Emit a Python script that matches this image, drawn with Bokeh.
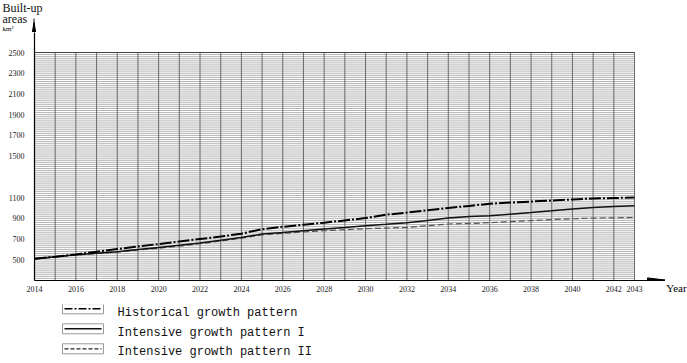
from bokeh.plotting import figure
from bokeh.models import Range1d, FixedTicker
from bokeh.layouts import column, row
from bokeh.embed import file_html
from bokeh.resources import INLINE
from bokeh.core.properties import value

# ---------------- data ----------------
years = list(range(2014, 2044))
historical = [510, 530, 552, 578, 603, 628, 652, 676, 700, 724,
              752, 795, 818, 838, 858, 880, 902, 935, 955, 978,
              1000, 1020, 1040, 1052, 1062, 1072, 1082, 1092, 1096, 1100]
intensive_1 = [510, 528, 548, 562, 578, 598, 618, 640, 662, 688,
               715, 748, 762, 780, 798, 812, 828, 842, 858, 880,
               902, 918, 925, 940, 955, 972, 990, 1005, 1015, 1022]
intensive_2 = [505, 525, 545, 560, 575, 595, 612, 632, 655, 680,
               708, 740, 755, 768, 780, 790, 800, 805, 812, 828,
               845, 850, 858, 868, 878, 888, 896, 902, 905, 908]
series_names = ["Historical growth pattern",
                "Intensive growth pattern I",
                "Intensive growth pattern II"]
x_tick_values = [2014, 2016, 2018, 2020, 2022, 2024, 2026, 2028, 2030,
                 2032, 2034, 2036, 2038, 2040, 2042, 2043]
y_tick_values = [500, 700, 900, 1100, 1500, 1700, 1900, 2100, 2300, 2500]
y_title_lines = ["Built-up", "areas"]
y_unit = "km²"
x_title = "Year"
grid_x_start, grid_x_end = 2014, 2043
grid_y_start, grid_y_end, grid_y_step = 300, 2500, 20

# ---------------- layout (pixels) ----------------
W = 687
H_TOTAL = 363
H_TOP = 32            # strip with the y-axis title
FRAME_H = 248         # plot frame: page y 32 -> 280
BB = 24               # bottom border of the plot (tick labels)
H_MAIN = FRAME_H + BB
H_LEG = H_TOTAL - H_TOP - H_MAIN
W_MAIN = 665
W_YEAR = W - W_MAIN
BL = 34
frame_w = W_MAIN - BL
grid_px_w = 600       # 2014 -> 2043
grid_px_h = 228       # 300 -> 2500
x_per_px = (grid_x_end - grid_x_start) / grid_px_w
y_per_px = (grid_y_end - grid_y_start) / grid_px_h
x_end = grid_x_start + frame_w * x_per_px
y_end = grid_y_start + FRAME_H * y_per_px
frame_bottom_page = H_TOP + FRAME_H
leg_top_page = H_TOP + H_MAIN


def dx(page_x):
    return grid_x_start + (page_x - BL) * x_per_px


def dy(page_y):
    return grid_y_start + (frame_bottom_page - page_y) * y_per_px


def blank(width, height):
    f = figure(width=width, height=height, output_backend="svg", toolbar_location=None,
               x_range=Range1d(0, width), y_range=Range1d(height, 0),
               x_axis_location=None, y_axis_location=None,
               min_border=0, min_border_left=0, min_border_right=0,
               min_border_top=0, min_border_bottom=0)
    f.grid.visible = False
    f.outline_line_color = None
    f.background_fill_color = "white"
    f.border_fill_color = "white"
    return f


# ---------------- top strip: y-axis title ----------------
top = blank(W, H_TOP)
top.text(x=[2, 2], y=[7, 18], text=y_title_lines, text_font=value("Liberation Serif"),
         text_font_size="12px", text_baseline="middle", text_color="#111111")
top.text(x=[2], y=[28], text=[y_unit], text_font=value("Liberation Serif"),
         text_font_size="7px", text_baseline="middle", text_color="black")
top.segment(x0=[33.5], y0=[18], x1=[33.5], y1=[H_TOP], line_color="black", line_width=1)
top.patch([33.5, 35.2, 31.8], [22, H_TOP, H_TOP], color="black")

# ---------------- main plot ----------------
p = figure(width=W_MAIN, height=H_MAIN, output_backend="svg", toolbar_location=None,
           x_range=Range1d(grid_x_start, x_end), y_range=Range1d(grid_y_start, y_end),
           min_border_left=BL, min_border_right=0, min_border_top=0,
           min_border_bottom=BB)
p.outline_line_color = None
p.xgrid.visible = False
p.ygrid.visible = False
p.background_fill_color = "white"
p.border_fill_color = "white"

hy = list(range(grid_y_start, grid_y_end + 1, grid_y_step))
p.segment(x0=[grid_x_start] * len(hy), y0=hy, x1=[grid_x_end] * len(hy), y1=hy,
          line_color="#a0a0a0", line_width=0.8)
p.segment(x0=years, y0=[grid_y_start] * len(years), x1=years,
          y1=[grid_y_end] * len(years), line_color="#6a6a6a", line_width=1)
p.segment(x0=[grid_x_start], y0=[grid_y_end], x1=[grid_x_end], y1=[grid_y_end],
          line_color="#444444", line_width=1)

p.line(years, intensive_2, line_color="#555555", line_width=1.2, line_dash="6 3")
p.line(years, intensive_1, line_color="#111111", line_width=1.5)
p.line(years, historical, line_color="#000000", line_width=2, line_dash="12 2 2 2")

for ax in (p.xaxis[0], p.yaxis[0]):
    ax.axis_line_color = "black"
    ax.axis_line_width = 1.2
    ax.major_tick_line_color = None
    ax.minor_tick_line_color = None
    ax.major_label_text_font = "Liberation Serif"
    ax.major_label_text_font_size = "8px"
    ax.major_label_text_color = "#222222"
p.xaxis.ticker = FixedTicker(ticks=x_tick_values)
p.yaxis.ticker = FixedTicker(ticks=y_tick_values)
p.xaxis.major_label_standoff = -1
p.yaxis.major_label_standoff = 4

# x-axis arrow head
p.patch([dx(665), dx(647), dx(647)], [dy(279.6), dy(277.4), dy(279.6)], color="black")

# ---------------- "Year" strip (its own x axis carries the title) ----------------
yr = figure(width=W_YEAR, height=H_MAIN, output_backend="svg", toolbar_location=None,
            x_range=Range1d(0, W_YEAR), y_range=Range1d(0, 1), y_axis_location=None,
            min_border_left=0, min_border_right=0, min_border_top=0,
            min_border_bottom=BB)
yr.grid.visible = False
yr.outline_line_color = None
yr.xaxis.axis_line_color = None
yr.xaxis.major_tick_line_color = None
yr.xaxis.minor_tick_line_color = None
yr.xaxis.ticker = FixedTicker(ticks=[11])
yr.xaxis.major_label_overrides = {11: x_title}
yr.xaxis.major_label_text_font = "Liberation Serif"
yr.xaxis.major_label_text_font_size = "11px"
yr.xaxis.major_label_text_color = "black"
yr.xaxis.major_label_standoff = -5

# ---------------- legend strip ----------------
leg = blank(W, H_LEG)
box_centers = [308.3 - leg_top_page, 328.3 - leg_top_page, 348.3 - leg_top_page]
text_centers = [312 - leg_top_page, 332 - leg_top_page, 351.5 - leg_top_page]
styles = [dict(line_color="#000000", line_width=1.5, line_dash="8 2 2 2"),
          dict(line_color="#111111", line_width=1.5),
          dict(line_color="#222222", line_width=1.3, line_dash="4 2")]
leg.rect(x=[82.5] * 3, y=box_centers, width=41, height=10, fill_color="white",
         line_color="#999999", line_width=1)
for yc, st in zip(box_centers, styles):
    leg.line([64, 101], [yc, yc], **st)
leg.text(x=[117] * 3, y=text_centers, text=series_names, text_font=value("Liberation Mono"),
         text_font_size="12px", text_baseline="middle", text_color="#111111")

layout = column(top, row(p, yr, spacing=0), leg, spacing=0)
open("out.html", "w").write(file_html(layout, INLINE))
